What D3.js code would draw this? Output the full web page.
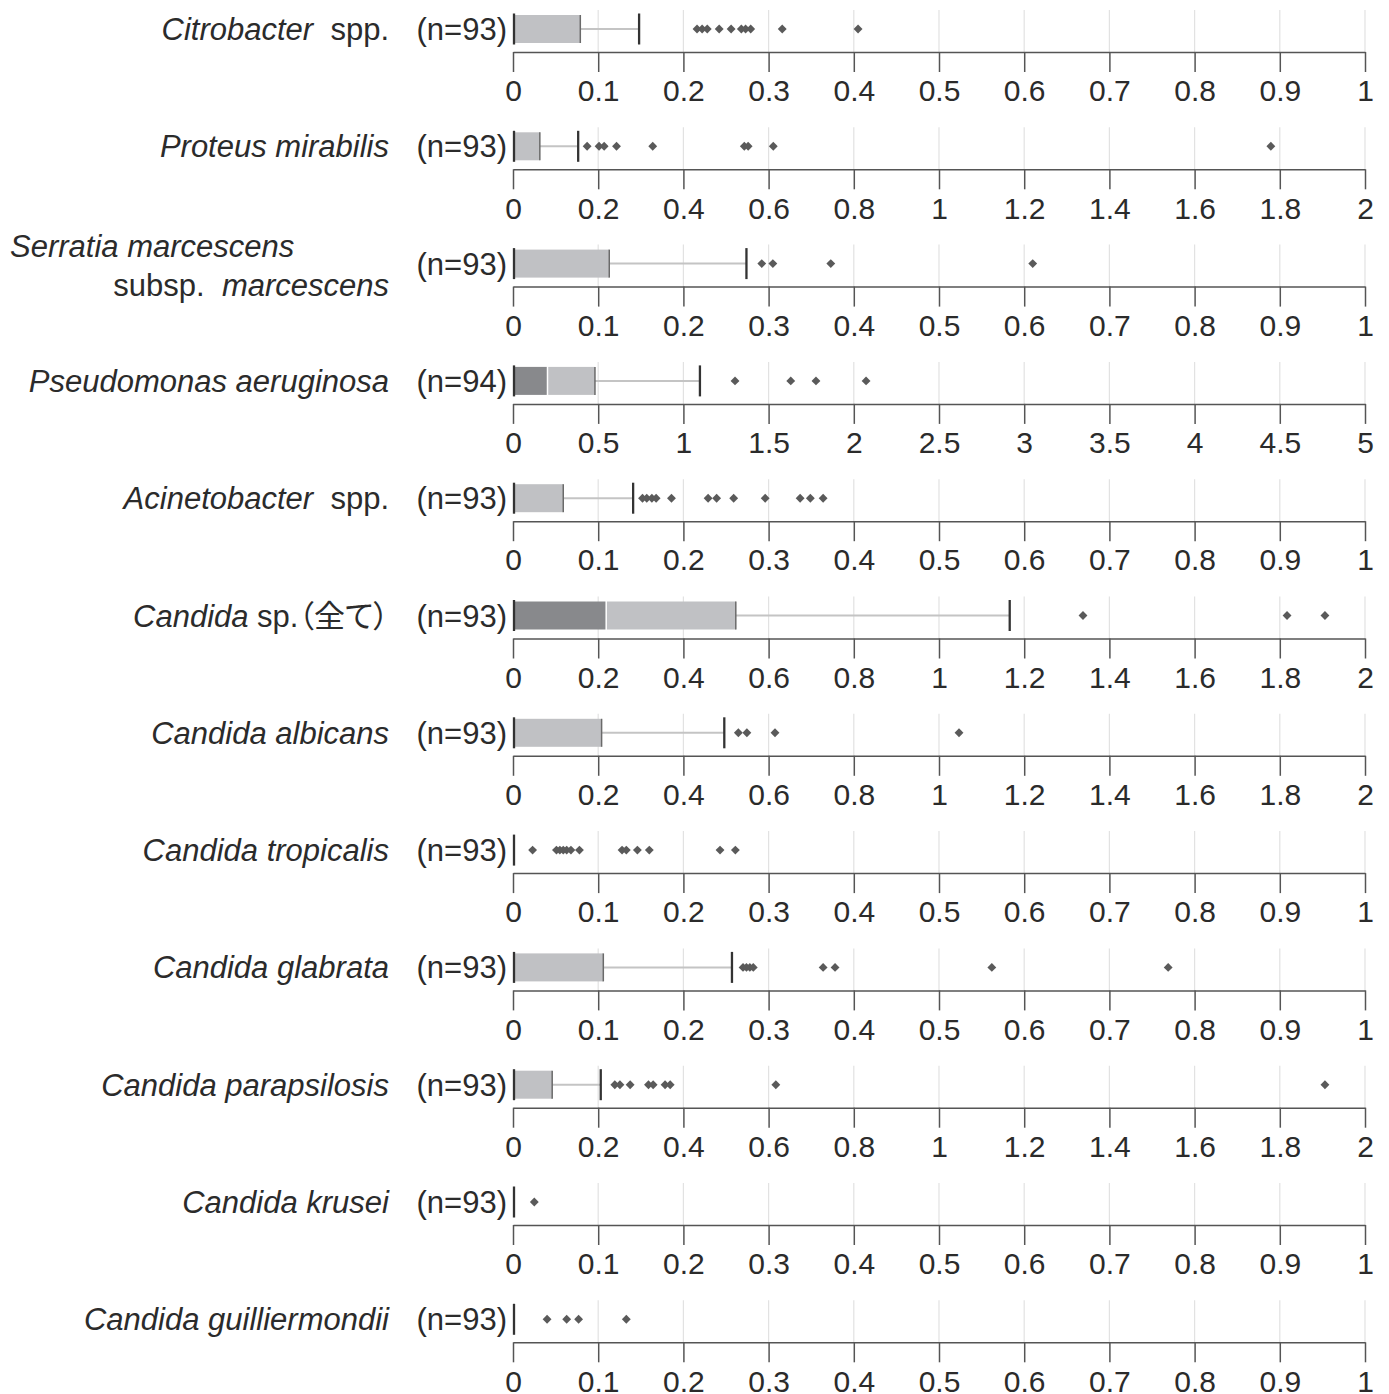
<!DOCTYPE html>
<html><head><meta charset="utf-8">
<script src="https://cdn.jsdelivr.net/npm/d3@7"></script>
<style>
html,body{margin:0;padding:0;background:#fff;}
svg{display:block;}
</style>
</head><body>
<svg id="chart" width="1389" height="1394"></svg>
<script>
// ---- data ----
const categories = [
  "Citrobacter spp.", "Proteus mirabilis", "Serratia marcescens subsp. marcescens",
  "Pseudomonas aeruginosa", "Acinetobacter spp.", "Candida sp.（全て）",
  "Candida albicans", "Candida tropicalis", "Candida glabrata",
  "Candida parapsilosis", "Candida krusei", "Candida guilliermondii"
];
const sampleSizes = [93, 93, 93, 94, 93, 93, 93, 93, 93, 93, 93, 93];
const axisMax = [1, 2, 1, 5, 1, 2, 2, 1, 1, 2, 1, 1];
const minimums = [0, 0, 0, 0, 0, 0, 0, 0, 0, 0, 0, 0];
const lowerQuartiles = [0, 0, 0, 0, 0, 0, 0, 0, 0, 0, 0, 0];
const medians = [0, 0, 0, 0.198, 0, 0.217, 0, 0, 0, 0, 0, 0];
const upperQuartiles = [0.079, 0.063, 0.113, 0.481, 0.059, 0.523, 0.208, 0, 0.106, 0.092, 0, 0];
const upperWhiskers = [0.148, 0.153, 0.274, 1.097, 0.141, 1.166, 0.496, 0, 0.257, 0.206, 0, 0];
const outliers = [
  [0.216, 0.222, 0.228, 0.242, 0.256, 0.268, 0.273, 0.279, 0.316, 0.405],
  [0.174, 0.202, 0.214, 0.243, 0.328, 0.543, 0.552, 0.611, 1.779],
  [0.292, 0.305, 0.373, 0.610],
  [1.303, 1.630, 1.778, 2.072],
  [0.152, 0.157, 0.163, 0.168, 0.186, 0.229, 0.239, 0.259, 0.296, 0.337, 0.349, 0.364],
  [1.338, 1.817, 1.906],
  [0.529, 0.549, 0.615, 1.047],
  [0.023, 0.051, 0.055, 0.059, 0.063, 0.068, 0.078, 0.128, 0.133, 0.146, 0.160, 0.243, 0.261],
  [0.270, 0.274, 0.278, 0.282, 0.364, 0.378, 0.562, 0.769],
  [0.239, 0.251, 0.275, 0.318, 0.329, 0.357, 0.369, 0.617, 1.906],
  [0.025],
  [0.040, 0.063, 0.077, 0.133]
];
// label parts: [text, italic, cjk]
const labelParts = [
  [["Citrobacter", true], ["\u00a0 spp.", false]],
  [["Proteus mirabilis", true]],
  null,
  [["Pseudomonas aeruginosa", true]],
  [["Acinetobacter", true], ["\u00a0 spp.", false]],
  [["Candida", true], [" sp.", false], ["（全て）", false, true]],
  [["Candida albicans", true]],
  [["Candida tropicalis", true]],
  [["Candida glabrata", true]],
  [["Candida parapsilosis", true]],
  [["Candida krusei", true]],
  [["Candida guilliermondii", true]]
];

// ---- layout ----
const svg = d3.select("#chart");
const x0 = 513, x1 = 1365;
const axisY0 = 52, rowStep = 117.3;
const boxH = 28, capH = 31, gridH = 42;
const FONT = "'Liberation Sans', Arial, 'Noto Sans CJK JP', sans-serif";
const CJK = "'Noto Sans CJK JP', sans-serif";
const LABEL_SIZE = 31, TICK_SIZE = 30;
const textColor = "#2b2b2b";

categories.forEach((cat, i) => {
  const ay = axisY0 + i * rowStep;
  const cy = ay - 23;
  const x = d3.scaleLinear().domain([0, axisMax[i]]).range([x0, x1]);
  const ticks = x.ticks(10);
  const g = svg.append("g");

  // gridlines
  g.selectAll("line.grid").data(ticks.slice(1)).join("line")
    .attr("x1", d => x(d)).attr("x2", d => x(d))
    .attr("y1", ay - gridH).attr("y2", ay)
    .attr("stroke", "#e2e2e2").attr("stroke-width", 1.2);

  // whisker line
  if (upperWhiskers[i] > upperQuartiles[i]) {
    g.append("line")
      .attr("x1", x(upperQuartiles[i])).attr("x2", x(upperWhiskers[i]))
      .attr("y1", cy).attr("y2", cy)
      .attr("stroke", "#c4c4c4").attr("stroke-width", 2);
  }
  // lower box (Q1-median)
  if (medians[i] > lowerQuartiles[i]) {
    g.append("rect")
      .attr("x", x(lowerQuartiles[i])).attr("y", cy - boxH / 2)
      .attr("width", x(medians[i]) - x(lowerQuartiles[i])).attr("height", boxH)
      .attr("fill", "#88898c");
  }
  // upper box (median-Q3)
  if (upperQuartiles[i] > medians[i]) {
    const gap = medians[i] > 0 ? 1.5 : 0;
    g.append("rect")
      .attr("x", x(medians[i]) + gap).attr("y", cy - boxH / 2)
      .attr("width", x(upperQuartiles[i]) - x(medians[i]) - gap).attr("height", boxH)
      .attr("fill", "#c0c1c4");
    g.append("line")
      .attr("x1", x(upperQuartiles[i])).attr("x2", x(upperQuartiles[i]))
      .attr("y1", cy - boxH / 2).attr("y2", cy + boxH / 2)
      .attr("stroke", "#6a6a6a").attr("stroke-width", 1.5);
  }
  // caps (min and upper whisker)
  [minimums[i], upperWhiskers[i]].forEach((v, k) => {
    if (k === 1 && upperWhiskers[i] <= upperQuartiles[i]) return;
    const off = k === 0 ? 1 : 0;
    g.append("line")
      .attr("x1", x(v) + off).attr("x2", x(v) + off)
      .attr("y1", cy - capH / 2).attr("y2", cy + capH / 2)
      .attr("stroke", "#333").attr("stroke-width", 2.3);
  });
  // outliers (diamonds)
  g.selectAll("path.out").data(outliers[i]).join("path")
    .attr("d", d3.symbol(d3.symbolDiamond2, 50))
    .attr("transform", d => `translate(${x(d)},${cy})`)
    .attr("fill", "#5a5a5a");

  // axis
  const axis = d3.axisBottom(x).tickValues(ticks).tickSize(20).tickSizeOuter(0)
    .tickPadding(8).tickFormat(d3.format("~g"));
  const ag = g.append("g").attr("transform", `translate(0,${ay})`).call(axis);
  ag.select(".domain").attr("stroke", "#555").attr("stroke-width", 1.5);
  ag.selectAll(".tick line").attr("stroke", "#555").attr("stroke-width", 1.5);
  ag.selectAll(".tick text").attr("font-size", TICK_SIZE).attr("font-family", FONT)
    .attr("fill", textColor);

  // n label
  g.append("text").attr("x", 507).attr("y", cy + 11).attr("text-anchor", "end")
    .attr("font-size", LABEL_SIZE).attr("font-family", FONT).attr("fill", textColor)
    .text(`(n=${sampleSizes[i]})`);

  // category label
  if (labelParts[i]) {
    const t = g.append("text").attr("x", 389).attr("y", cy + 11).attr("text-anchor", "end")
      .attr("font-size", LABEL_SIZE).attr("font-family", FONT).attr("fill", textColor);
    labelParts[i].forEach(([s, it, cjk]) => {
      const ts = t.append("tspan").attr("font-style", it ? "italic" : "normal").text(s);
      if (cjk) ts.attr("font-family", CJK).attr("font-size", 31)
        .style("font-feature-settings", "'palt' 1");
    });
  } else {
    g.append("text").attr("x", 10).attr("y", cy - 7).attr("text-anchor", "start")
      .attr("font-size", LABEL_SIZE).attr("font-family", FONT).attr("fill", textColor)
      .attr("font-style", "italic").text("Serratia marcescens");
    const t2 = g.append("text").attr("x", 389).attr("y", cy + 32).attr("text-anchor", "end")
      .attr("font-size", LABEL_SIZE).attr("font-family", FONT).attr("fill", textColor);
    t2.append("tspan").text("subsp.\u00a0 ");
    t2.append("tspan").attr("font-style", "italic").text("marcescens");
  }
});
</script>
</body></html>
